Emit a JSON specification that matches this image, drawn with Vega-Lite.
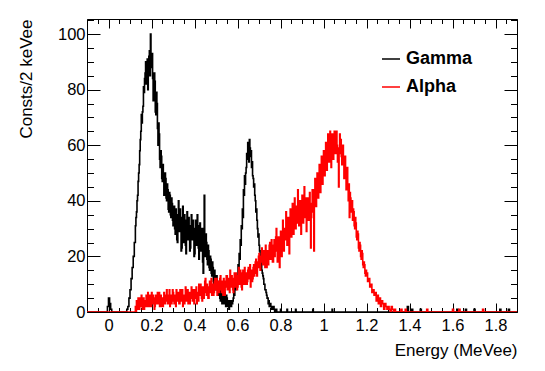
{
 "$schema": "https://vega.github.io/schema/vega-lite/v6.json",
 "autosize": "none",
 "width": 430,
 "height": 293,
 "padding": {"left": 87, "top": 19, "right": 28, "bottom": 59},
 "background": "white",
 "config": {
  "view": {"stroke": "#000", "strokeWidth": 1},
  "font": "Liberation Sans",
  "axis": {"grid": false, "domain": false, "labelFont": "Liberation Sans", "labelFontSize": 16.5, "labelColor": "#000", "tickColor": "#000", "tickWidth": 1, "titleFont": "Liberation Sans", "titleFontWeight": "normal", "titleFontSize": 17, "titleColor": "#000"}
 },
 "data": {"values": [
  {"e":-0.1,"Gamma":0,"Alpha":0},{"e":-0.005,"Gamma":2,"Alpha":0},{"e":0,"Gamma":5,"Alpha":0},{"e":0.005,"Gamma":3,"Alpha":0},{"e":0.01,"Gamma":1,"Alpha":0},{"e":0.015,"Gamma":0,"Alpha":0},
  {"e":0.085,"Gamma":1,"Alpha":0},{"e":0.09,"Gamma":2,"Alpha":0},{"e":0.095,"Gamma":5,"Alpha":0},{"e":0.1,"Gamma":8,"Alpha":0},{"e":0.105,"Gamma":12,"Alpha":0},{"e":0.11,"Gamma":16,"Alpha":0},{"e":0.115,"Gamma":20,"Alpha":0},{"e":0.12,"Gamma":25,"Alpha":0},
  {"e":0.125,"Gamma":31,"Alpha":2},{"e":0.1275,"Gamma":34,"Alpha":0},{"e":0.13,"Gamma":36,"Alpha":4},{"e":0.1325,"Gamma":40,"Alpha":2},{"e":0.135,"Gamma":42,"Alpha":1},{"e":0.1375,"Gamma":47,"Alpha":5},{"e":0.14,"Gamma":50,"Alpha":3},{"e":0.1425,"Gamma":53,"Alpha":1},{"e":0.145,"Gamma":58,"Alpha":5},{"e":0.1475,"Gamma":62,"Alpha":3},
  {"e":0.15,"Gamma":65,"Alpha":2},{"e":0.1525,"Gamma":71,"Alpha":6},{"e":0.155,"Gamma":68,"Alpha":4},{"e":0.1575,"Gamma":72,"Alpha":1},{"e":0.16,"Gamma":74,"Alpha":3},{"e":0.1625,"Gamma":81,"Alpha":5},{"e":0.165,"Gamma":79,"Alpha":1},{"e":0.1675,"Gamma":84,"Alpha":3},{"e":0.17,"Gamma":86,"Alpha":4},{"e":0.1725,"Gamma":90,"Alpha":2},
  {"e":0.175,"Gamma":82,"Alpha":6},{"e":0.1775,"Gamma":88,"Alpha":3},{"e":0.18,"Gamma":91,"Alpha":2},{"e":0.1825,"Gamma":80,"Alpha":7},{"e":0.185,"Gamma":86,"Alpha":5},{"e":0.1875,"Gamma":92,"Alpha":2},{"e":0.19,"Gamma":94,"Alpha":3},{"e":0.1925,"Gamma":85,"Alpha":6},{"e":0.195,"Gamma":100,"Alpha":4},{"e":0.1975,"Gamma":90,"Alpha":2},
  {"e":0.2,"Gamma":88,"Alpha":7},{"e":0.2025,"Gamma":93,"Alpha":4},{"e":0.205,"Gamma":84,"Alpha":3},{"e":0.2075,"Gamma":76,"Alpha":6},{"e":0.21,"Gamma":78,"Alpha":5},{"e":0.2125,"Gamma":86,"Alpha":1},{"e":0.215,"Gamma":83,"Alpha":2},{"e":0.2175,"Gamma":72,"Alpha":5},{"e":0.22,"Gamma":71,"Alpha":6},{"e":0.2225,"Gamma":79,"Alpha":3},
  {"e":0.225,"Gamma":75,"Alpha":4},{"e":0.2275,"Gamma":66,"Alpha":7},{"e":0.23,"Gamma":60,"Alpha":3},{"e":0.2325,"Gamma":68,"Alpha":5},{"e":0.235,"Gamma":64,"Alpha":7},{"e":0.2375,"Gamma":55,"Alpha":2},{"e":0.24,"Gamma":52,"Alpha":4},{"e":0.2425,"Gamma":58,"Alpha":6},{"e":0.245,"Gamma":56,"Alpha":2},{"e":0.2475,"Gamma":48,"Alpha":4},
  {"e":0.25,"Gamma":47,"Alpha":5},{"e":0.2525,"Gamma":53,"Alpha":2},{"e":0.255,"Gamma":50,"Alpha":3},{"e":0.2575,"Gamma":42,"Alpha":7},{"e":0.26,"Gamma":44,"Alpha":6},{"e":0.2625,"Gamma":50,"Alpha":3},{"e":0.265,"Gamma":48,"Alpha":4},{"e":0.2675,"Gamma":41,"Alpha":6},{"e":0.27,"Gamma":40,"Alpha":8},{"e":0.2725,"Gamma":46,"Alpha":4},
  {"e":0.275,"Gamma":44,"Alpha":3},{"e":0.2775,"Gamma":37,"Alpha":6},{"e":0.28,"Gamma":36,"Alpha":5},{"e":0.2825,"Gamma":43,"Alpha":8},{"e":0.285,"Gamma":42,"Alpha":2},{"e":0.2875,"Gamma":35,"Alpha":5},{"e":0.29,"Gamma":34,"Alpha":6},{"e":0.2925,"Gamma":41,"Alpha":3},{"e":0.295,"Gamma":39,"Alpha":4},{"e":0.2975,"Gamma":33,"Alpha":8},
  {"e":0.3,"Gamma":31,"Alpha":7},{"e":0.3025,"Gamma":36,"Alpha":4},{"e":0.305,"Gamma":38,"Alpha":3},{"e":0.3075,"Gamma":30,"Alpha":6},{"e":0.31,"Gamma":28,"Alpha":5},{"e":0.3125,"Gamma":37,"Alpha":2},{"e":0.315,"Gamma":35,"Alpha":8},{"e":0.3175,"Gamma":26,"Alpha":5},{"e":0.32,"Gamma":25,"Alpha":4},{"e":0.3225,"Gamma":33,"Alpha":7},
  {"e":0.325,"Gamma":40,"Alpha":6},{"e":0.3275,"Gamma":31,"Alpha":3},{"e":0.33,"Gamma":29,"Alpha":3},{"e":0.3325,"Gamma":37,"Alpha":8},{"e":0.335,"Gamma":34,"Alpha":7},{"e":0.3375,"Gamma":22,"Alpha":4},{"e":0.34,"Gamma":23,"Alpha":5},{"e":0.3425,"Gamma":32,"Alpha":8},{"e":0.345,"Gamma":38,"Alpha":2},{"e":0.3475,"Gamma":25,"Alpha":6},
  {"e":0.35,"Gamma":27,"Alpha":6},{"e":0.3525,"Gamma":35,"Alpha":3},{"e":0.355,"Gamma":33,"Alpha":4},{"e":0.3575,"Gamma":24,"Alpha":9},{"e":0.36,"Gamma":21,"Alpha":8},{"e":0.3625,"Gamma":30,"Alpha":4},{"e":0.365,"Gamma":36,"Alpha":5},{"e":0.3675,"Gamma":26,"Alpha":8},{"e":0.37,"Gamma":27,"Alpha":3},{"e":0.3725,"Gamma":34,"Alpha":6},
  {"e":0.375,"Gamma":31,"Alpha":7},{"e":0.3775,"Gamma":22,"Alpha":3},{"e":0.38,"Gamma":23,"Alpha":5},{"e":0.3825,"Gamma":30,"Alpha":7},{"e":0.385,"Gamma":35,"Alpha":9},{"e":0.3875,"Gamma":27,"Alpha":5},{"e":0.39,"Gamma":26,"Alpha":4},{"e":0.3925,"Gamma":33,"Alpha":8},{"e":0.395,"Gamma":30,"Alpha":6},{"e":0.3975,"Gamma":20,"Alpha":3},
  {"e":0.4,"Gamma":21,"Alpha":8},{"e":0.4025,"Gamma":29,"Alpha":6},{"e":0.405,"Gamma":33,"Alpha":5},{"e":0.4075,"Gamma":24,"Alpha":9},{"e":0.41,"Gamma":25,"Alpha":3},{"e":0.4125,"Gamma":35,"Alpha":7},{"e":0.415,"Gamma":31,"Alpha":7},{"e":0.4175,"Gamma":23,"Alpha":4},{"e":0.42,"Gamma":19,"Alpha":10},{"e":0.4225,"Gamma":28,"Alpha":6},
  {"e":0.425,"Gamma":32,"Alpha":6},{"e":0.4275,"Gamma":26,"Alpha":10},{"e":0.43,"Gamma":22,"Alpha":8},{"e":0.4325,"Gamma":30,"Alpha":5},{"e":0.435,"Gamma":27,"Alpha":4},{"e":0.4375,"Gamma":18,"Alpha":9},{"e":0.44,"Gamma":14,"Alpha":9},{"e":0.4425,"Gamma":30,"Alpha":5},{"e":0.445,"Gamma":42,"Alpha":7},{"e":0.4475,"Gamma":27,"Alpha":11},
  {"e":0.45,"Gamma":20,"Alpha":12},{"e":0.4525,"Gamma":28,"Alpha":7},{"e":0.455,"Gamma":25,"Alpha":6},{"e":0.4575,"Gamma":19,"Alpha":10},{"e":0.46,"Gamma":17,"Alpha":9},{"e":0.4625,"Gamma":24,"Alpha":5},{"e":0.465,"Gamma":22,"Alpha":5},{"e":0.4675,"Gamma":16,"Alpha":9},{"e":0.47,"Gamma":15,"Alpha":11},{"e":0.4725,"Gamma":20,"Alpha":7},
  {"e":0.475,"Gamma":19,"Alpha":8},{"e":0.4775,"Gamma":14,"Alpha":12},{"e":0.48,"Gamma":13,"Alpha":6},{"e":0.4825,"Gamma":18,"Alpha":9},{"e":0.485,"Gamma":16,"Alpha":10},{"e":0.4875,"Gamma":11,"Alpha":6},{"e":0.49,"Gamma":10,"Alpha":7},{"e":0.4925,"Gamma":15,"Alpha":11},{"e":0.495,"Gamma":13,"Alpha":12},{"e":0.4975,"Gamma":8,"Alpha":8},
  {"e":0.5,"Gamma":9,"Alpha":9},{"e":0.5025,"Gamma":13,"Alpha":12},{"e":0.505,"Gamma":11,"Alpha":6},{"e":0.5075,"Gamma":7,"Alpha":9},{"e":0.51,"Gamma":6,"Alpha":11},{"e":0.5125,"Gamma":10,"Alpha":7},{"e":0.515,"Gamma":9,"Alpha":8},{"e":0.5175,"Gamma":5,"Alpha":12},{"e":0.52,"Gamma":4,"Alpha":13},{"e":0.5225,"Gamma":7,"Alpha":8},
  {"e":0.525,"Gamma":8,"Alpha":7},{"e":0.5275,"Gamma":3,"Alpha":11},{"e":0.53,"Gamma":5,"Alpha":10},{"e":0.5325,"Gamma":6,"Alpha":6},{"e":0.535,"Gamma":3,"Alpha":12},{"e":0.5375,"Gamma":5,"Alpha":9},{"e":0.54,"Gamma":7,"Alpha":6},{"e":0.5425,"Gamma":4,"Alpha":11},{"e":0.545,"Gamma":2,"Alpha":9},{"e":0.5475,"Gamma":6,"Alpha":13},
  {"e":0.55,"Gamma":5,"Alpha":13},{"e":0.5525,"Gamma":2,"Alpha":8},{"e":0.555,"Gamma":3,"Alpha":8},{"e":0.5575,"Gamma":4,"Alpha":12},{"e":0.56,"Gamma":1,"Alpha":11},{"e":0.5625,"Gamma":3,"Alpha":7},{"e":0.565,"Gamma":4,"Alpha":15},{"e":0.5675,"Gamma":2,"Alpha":10},{"e":0.57,"Gamma":2,"Alpha":9},{"e":0.5725,"Gamma":4,"Alpha":13},
  {"e":0.575,"Gamma":3,"Alpha":12},{"e":0.5775,"Gamma":4,"Alpha":8},{"e":0.58,"Gamma":5,"Alpha":7},{"e":0.5825,"Gamma":7,"Alpha":12},{"e":0.585,"Gamma":6,"Alpha":14},{"e":0.5875,"Gamma":9,"Alpha":9},{"e":0.59,"Gamma":8,"Alpha":10},{"e":0.5925,"Gamma":11,"Alpha":14},{"e":0.595,"Gamma":10,"Alpha":13},{"e":0.5975,"Gamma":13,"Alpha":8},
  {"e":0.6,"Gamma":12,"Alpha":9},{"e":0.6025,"Gamma":17,"Alpha":13},{"e":0.605,"Gamma":15,"Alpha":16},{"e":0.6075,"Gamma":21,"Alpha":10},{"e":0.61,"Gamma":19,"Alpha":11},{"e":0.6125,"Gamma":26,"Alpha":15},{"e":0.615,"Gamma":24,"Alpha":13},{"e":0.6175,"Gamma":31,"Alpha":9},{"e":0.62,"Gamma":30,"Alpha":8},{"e":0.6225,"Gamma":37,"Alpha":14},
  {"e":0.625,"Gamma":34,"Alpha":15},{"e":0.6275,"Gamma":44,"Alpha":10},{"e":0.63,"Gamma":42,"Alpha":12},{"e":0.6325,"Gamma":49,"Alpha":16},{"e":0.635,"Gamma":46,"Alpha":10},{"e":0.6375,"Gamma":50,"Alpha":13},{"e":0.64,"Gamma":52,"Alpha":14},{"e":0.6425,"Gamma":57,"Alpha":10},{"e":0.645,"Gamma":55,"Alpha":11},{"e":0.6475,"Gamma":61,"Alpha":15},
  {"e":0.65,"Gamma":58,"Alpha":16},{"e":0.6525,"Gamma":54,"Alpha":12},{"e":0.655,"Gamma":62,"Alpha":13},{"e":0.6575,"Gamma":59,"Alpha":17},{"e":0.66,"Gamma":56,"Alpha":9},{"e":0.6625,"Gamma":58,"Alpha":14},{"e":0.665,"Gamma":52,"Alpha":15},{"e":0.6675,"Gamma":54,"Alpha":11},{"e":0.67,"Gamma":49,"Alpha":12},{"e":0.6725,"Gamma":48,"Alpha":16},
  {"e":0.675,"Gamma":45,"Alpha":17},{"e":0.6775,"Gamma":46,"Alpha":13},{"e":0.68,"Gamma":42,"Alpha":14},{"e":0.6825,"Gamma":40,"Alpha":18},{"e":0.685,"Gamma":36,"Alpha":19},{"e":0.6875,"Gamma":37,"Alpha":14},{"e":0.69,"Gamma":33,"Alpha":13},{"e":0.6925,"Gamma":30,"Alpha":18},{"e":0.695,"Gamma":27,"Alpha":16},{"e":0.6975,"Gamma":28,"Alpha":20},
  {"e":0.7,"Gamma":24,"Alpha":21},{"e":0.7025,"Gamma":22,"Alpha":16},{"e":0.705,"Gamma":20,"Alpha":15},{"e":0.7075,"Gamma":19,"Alpha":20},{"e":0.71,"Gamma":17,"Alpha":18},{"e":0.7125,"Gamma":15,"Alpha":23},{"e":0.715,"Gamma":14,"Alpha":22},{"e":0.7175,"Gamma":13,"Alpha":17},{"e":0.72,"Gamma":12,"Alpha":17},{"e":0.7225,"Gamma":10,"Alpha":22},
  {"e":0.725,"Gamma":10,"Alpha":20},{"e":0.7275,"Gamma":8,"Alpha":16},{"e":0.73,"Gamma":8,"Alpha":24},{"e":0.7325,"Gamma":7,"Alpha":19},{"e":0.735,"Gamma":6,"Alpha":16},{"e":0.7375,"Gamma":5,"Alpha":22},{"e":0.74,"Gamma":5,"Alpha":21},{"e":0.7425,"Gamma":3,"Alpha":17},{"e":0.745,"Gamma":4,"Alpha":19},{"e":0.7475,"Gamma":2,"Alpha":24},
  {"e":0.75,"Gamma":3,"Alpha":25},{"e":0.7525,"Gamma":3,"Alpha":19},{"e":0.755,"Gamma":2,"Alpha":20},{"e":0.7575,"Gamma":1,"Alpha":26},{"e":0.76,"Gamma":2,"Alpha":23},{"e":0.7625,"Gamma":1,"Alpha":18},{"e":0.765,"Gamma":1,"Alpha":18},{"e":0.7675,"Gamma":2,"Alpha":24},{"e":0.77,"Gamma":1,"Alpha":26},{"e":0.7725,"Gamma":0,"Alpha":20},
  {"e":0.775,"Gamma":0,"Alpha":22},{"e":0.7775,"Gamma":1,"Alpha":27},{"e":0.78,"Gamma":1,"Alpha":30},{"e":0.7825,"Gamma":0,"Alpha":22},{"e":0.785,"Gamma":0,"Alpha":18},{"e":0.7875,"Gamma":0,"Alpha":25},{"e":0.79,"Gamma":0,"Alpha":27},{"e":0.7925,"Gamma":0,"Alpha":21},{"e":0.795,"Gamma":0,"Alpha":16},{"e":0.7975,"Gamma":0,"Alpha":24},
  {"e":0.8,"Gamma":1,"Alpha":29},{"e":0.8025,"Gamma":0,"Alpha":23},{"e":0.805,"Gamma":0,"Alpha":20},{"e":0.8075,"Gamma":0,"Alpha":27},{"e":0.81,"Gamma":0,"Alpha":33},{"e":0.8125,"Gamma":0,"Alpha":25},{"e":0.815,"Gamma":0,"Alpha":22},{"e":0.8175,"Gamma":0,"Alpha":29},{"e":0.82,"Gamma":0,"Alpha":30},{"e":0.8225,"Gamma":0,"Alpha":26},
  {"e":0.825,"Gamma":0,"Alpha":36},{"e":0.8275,"Gamma":0,"Alpha":29},{"e":0.83,"Gamma":1,"Alpha":24},{"e":0.8325,"Gamma":0,"Alpha":31},{"e":0.835,"Gamma":0,"Alpha":34},{"e":0.8375,"Gamma":0,"Alpha":27},{"e":0.84,"Gamma":0,"Alpha":21},{"e":0.8425,"Gamma":0,"Alpha":30},{"e":0.845,"Gamma":0,"Alpha":37},{"e":0.8475,"Gamma":0,"Alpha":31},
  {"e":0.85,"Gamma":0,"Alpha":27},{"e":0.8525,"Gamma":0,"Alpha":34},{"e":0.855,"Gamma":0,"Alpha":39},{"e":0.8575,"Gamma":0,"Alpha":32},{"e":0.86,"Gamma":0,"Alpha":28},{"e":0.8625,"Gamma":0,"Alpha":36},{"e":0.865,"Gamma":0,"Alpha":41},{"e":0.8675,"Gamma":0,"Alpha":33},{"e":0.87,"Gamma":1,"Alpha":30},{"e":0.8725,"Gamma":0,"Alpha":38},
  {"e":0.875,"Gamma":0,"Alpha":37},{"e":0.8775,"Gamma":0,"Alpha":32},{"e":0.88,"Gamma":0,"Alpha":44},{"e":0.8825,"Gamma":0,"Alpha":36},{"e":0.885,"Gamma":0,"Alpha":31},{"e":0.8875,"Gamma":0,"Alpha":39},{"e":0.89,"Gamma":0,"Alpha":40},{"e":0.8925,"Gamma":0,"Alpha":34},{"e":0.895,"Gamma":0,"Alpha":28},{"e":0.8975,"Gamma":0,"Alpha":36},
  {"e":0.9,"Gamma":0,"Alpha":42},{"e":0.9025,"Gamma":0,"Alpha":35},{"e":0.905,"Gamma":0,"Alpha":32},{"e":0.9075,"Gamma":0,"Alpha":40},{"e":0.91,"Gamma":0,"Alpha":45},{"e":0.9125,"Gamma":0,"Alpha":37},{"e":0.915,"Gamma":0,"Alpha":34},{"e":0.9175,"Gamma":0,"Alpha":41},{"e":0.92,"Gamma":0,"Alpha":29},{"e":0.9225,"Gamma":0,"Alpha":36},
  {"e":0.925,"Gamma":0,"Alpha":41},{"e":0.9275,"Gamma":0,"Alpha":35},{"e":0.93,"Gamma":0,"Alpha":33},{"e":0.9325,"Gamma":0,"Alpha":39},{"e":0.935,"Gamma":0,"Alpha":43},{"e":0.9375,"Gamma":0,"Alpha":36},{"e":0.94,"Gamma":0,"Alpha":23},{"e":0.9425,"Gamma":0,"Alpha":34},{"e":0.945,"Gamma":0,"Alpha":39},{"e":0.9475,"Gamma":0,"Alpha":44},
  {"e":0.95,"Gamma":1,"Alpha":44},{"e":0.9525,"Gamma":0,"Alpha":36},{"e":0.955,"Gamma":0,"Alpha":22},{"e":0.9575,"Gamma":0,"Alpha":38},{"e":0.96,"Gamma":0,"Alpha":48},{"e":0.9625,"Gamma":0,"Alpha":42},{"e":0.965,"Gamma":0,"Alpha":38},{"e":0.9675,"Gamma":0,"Alpha":45},{"e":0.97,"Gamma":0,"Alpha":50},{"e":0.9725,"Gamma":0,"Alpha":44},
  {"e":0.975,"Gamma":0,"Alpha":41},{"e":0.9775,"Gamma":0,"Alpha":48},{"e":0.98,"Gamma":0,"Alpha":53},{"e":0.9825,"Gamma":0,"Alpha":46},{"e":0.985,"Gamma":0,"Alpha":43},{"e":0.9875,"Gamma":0,"Alpha":51},{"e":0.99,"Gamma":0,"Alpha":56},{"e":0.9925,"Gamma":0,"Alpha":49},{"e":0.995,"Gamma":0,"Alpha":46},{"e":0.9975,"Gamma":0,"Alpha":54},
  {"e":1,"Gamma":0,"Alpha":58},{"e":1.0025,"Gamma":0,"Alpha":52},{"e":1.005,"Gamma":0,"Alpha":49},{"e":1.0075,"Gamma":0,"Alpha":57},{"e":1.01,"Gamma":0,"Alpha":61},{"e":1.0125,"Gamma":0,"Alpha":54},{"e":1.015,"Gamma":0,"Alpha":51},{"e":1.0175,"Gamma":0,"Alpha":59},{"e":1.02,"Gamma":0,"Alpha":64},{"e":1.0225,"Gamma":0,"Alpha":57},
  {"e":1.025,"Gamma":0,"Alpha":54},{"e":1.0275,"Gamma":0,"Alpha":62},{"e":1.03,"Gamma":0,"Alpha":65},{"e":1.0325,"Gamma":0,"Alpha":58},{"e":1.035,"Gamma":0,"Alpha":52},{"e":1.0375,"Gamma":0,"Alpha":60},{"e":1.04,"Gamma":1,"Alpha":64},{"e":1.0425,"Gamma":0,"Alpha":59},{"e":1.045,"Gamma":0,"Alpha":55},{"e":1.0475,"Gamma":0,"Alpha":62},
  {"e":1.05,"Gamma":0,"Alpha":65},{"e":1.0525,"Gamma":0,"Alpha":58},{"e":1.055,"Gamma":0,"Alpha":57},{"e":1.0575,"Gamma":0,"Alpha":63},{"e":1.06,"Gamma":0,"Alpha":65},{"e":1.0625,"Gamma":0,"Alpha":60},{"e":1.065,"Gamma":0,"Alpha":54},{"e":1.0675,"Gamma":0,"Alpha":59},{"e":1.07,"Gamma":0,"Alpha":45},{"e":1.0725,"Gamma":0,"Alpha":57},
  {"e":1.075,"Gamma":0,"Alpha":64},{"e":1.0775,"Gamma":0,"Alpha":58},{"e":1.08,"Gamma":0,"Alpha":62},{"e":1.0825,"Gamma":0,"Alpha":56},{"e":1.085,"Gamma":0,"Alpha":53},{"e":1.0875,"Gamma":0,"Alpha":59},{"e":1.09,"Gamma":0,"Alpha":60},{"e":1.0925,"Gamma":0,"Alpha":54},{"e":1.095,"Gamma":0,"Alpha":48},{"e":1.0975,"Gamma":0,"Alpha":55},
  {"e":1.1,"Gamma":0,"Alpha":56},{"e":1.1025,"Gamma":0,"Alpha":49},{"e":1.105,"Gamma":0,"Alpha":44},{"e":1.1075,"Gamma":0,"Alpha":51},{"e":1.11,"Gamma":0,"Alpha":52},{"e":1.1125,"Gamma":0,"Alpha":45},{"e":1.115,"Gamma":0,"Alpha":40},{"e":1.1175,"Gamma":0,"Alpha":46},{"e":1.12,"Gamma":0,"Alpha":34},{"e":1.1225,"Gamma":0,"Alpha":43},
  {"e":1.125,"Gamma":0,"Alpha":41},{"e":1.1275,"Gamma":0,"Alpha":36},{"e":1.13,"Gamma":0,"Alpha":38},{"e":1.1325,"Gamma":0,"Alpha":40},{"e":1.135,"Gamma":0,"Alpha":33},{"e":1.1375,"Gamma":0,"Alpha":37},{"e":1.14,"Gamma":0,"Alpha":36},{"e":1.1425,"Gamma":0,"Alpha":31},{"e":1.145,"Gamma":0,"Alpha":30},{"e":1.1475,"Gamma":0,"Alpha":34},
  {"e":1.15,"Gamma":0,"Alpha":32},{"e":1.1525,"Gamma":0,"Alpha":27},{"e":1.155,"Gamma":0,"Alpha":26},{"e":1.1575,"Gamma":0,"Alpha":29},{"e":1.16,"Gamma":0,"Alpha":28},{"e":1.1625,"Gamma":0,"Alpha":23},{"e":1.165,"Gamma":0,"Alpha":22},{"e":1.1675,"Gamma":0,"Alpha":25},{"e":1.17,"Gamma":0,"Alpha":24},{"e":1.1725,"Gamma":0,"Alpha":20},
  {"e":1.175,"Gamma":0,"Alpha":19},{"e":1.1775,"Gamma":0,"Alpha":22},{"e":1.18,"Gamma":0,"Alpha":21},{"e":1.1825,"Gamma":0,"Alpha":17},{"e":1.185,"Gamma":0,"Alpha":16},{"e":1.1875,"Gamma":0,"Alpha":18},{"e":1.19,"Gamma":0,"Alpha":17},{"e":1.1925,"Gamma":0,"Alpha":14},{"e":1.195,"Gamma":0,"Alpha":13},{"e":1.1975,"Gamma":0,"Alpha":15},
  {"e":1.2,"Gamma":0,"Alpha":14},{"e":1.205,"Gamma":0,"Alpha":11},{"e":1.21,"Gamma":0,"Alpha":12},{"e":1.215,"Gamma":0,"Alpha":9},{"e":1.22,"Gamma":0,"Alpha":10},{"e":1.225,"Gamma":0,"Alpha":7},{"e":1.23,"Gamma":0,"Alpha":8},{"e":1.235,"Gamma":0,"Alpha":6},{"e":1.24,"Gamma":0,"Alpha":7},{"e":1.245,"Gamma":0,"Alpha":4},{"e":1.25,"Gamma":0,"Alpha":6},{"e":1.255,"Gamma":0,"Alpha":3},{"e":1.26,"Gamma":0,"Alpha":5},{"e":1.265,"Gamma":0,"Alpha":2},{"e":1.27,"Gamma":0,"Alpha":4},{"e":1.275,"Gamma":0,"Alpha":3},{"e":1.28,"Gamma":0,"Alpha":1},{"e":1.285,"Gamma":0,"Alpha":3},{"e":1.29,"Gamma":0,"Alpha":2},{"e":1.295,"Gamma":0,"Alpha":1},
  {"e":1.3,"Gamma":0,"Alpha":2},{"e":1.305,"Gamma":0,"Alpha":1},{"e":1.31,"Gamma":0,"Alpha":0},{"e":1.315,"Gamma":0,"Alpha":2},{"e":1.32,"Gamma":0,"Alpha":1},{"e":1.325,"Gamma":0,"Alpha":0},{"e":1.33,"Gamma":0,"Alpha":1},{"e":1.335,"Gamma":0,"Alpha":0},
  {"e":1.36,"Gamma":0,"Alpha":1},{"e":1.365,"Gamma":0,"Alpha":0},{"e":1.38,"Gamma":0,"Alpha":1},{"e":1.385,"Gamma":0,"Alpha":0},{"e":1.39,"Gamma":2,"Alpha":0},{"e":1.395,"Gamma":0,"Alpha":0},{"e":1.41,"Gamma":1,"Alpha":0},{"e":1.415,"Gamma":0,"Alpha":0},{"e":1.45,"Gamma":1,"Alpha":0},{"e":1.455,"Gamma":0,"Alpha":0},{"e":1.48,"Gamma":0,"Alpha":1},{"e":1.485,"Gamma":0,"Alpha":0},
  {"e":1.6,"Gamma":0,"Alpha":1},{"e":1.605,"Gamma":0,"Alpha":0},{"e":1.62,"Gamma":1,"Alpha":0},{"e":1.625,"Gamma":0,"Alpha":0},{"e":1.63,"Gamma":0,"Alpha":1},{"e":1.635,"Gamma":0,"Alpha":0},{"e":1.66,"Gamma":1,"Alpha":0},{"e":1.665,"Gamma":0,"Alpha":0},{"e":1.7,"Gamma":1,"Alpha":0},{"e":1.705,"Gamma":0,"Alpha":0},{"e":1.74,"Gamma":0,"Alpha":1},{"e":1.745,"Gamma":0,"Alpha":0},{"e":1.82,"Gamma":1,"Alpha":0},{"e":1.825,"Gamma":0,"Alpha":0},{"e":1.86,"Gamma":1,"Alpha":0},{"e":1.865,"Gamma":0,"Alpha":0},{"e":1.9,"Gamma":0,"Alpha":0}
 ]},
 "transform": [{"fold": ["Gamma", "Alpha"], "as": ["series", "count"]}],
 "layer": [
  {
   "transform": [{"filter": "datum.series === 'Gamma'"}],
   "mark": {"type": "line", "interpolate": "step-after", "strokeWidth": 1.6, "clip": true},
   "encoding": {
    "x": {"field": "e", "type": "quantitative", "scale": {"domain": [-0.1, 1.9], "nice": false, "zero": false},
     "axis": {"orient": "bottom", "values": [-0.1,-0.05,0,0.05,0.1,0.15,0.2,0.25,0.3,0.35,0.4,0.45,0.5,0.55,0.6,0.65,0.7,0.75,0.8,0.85,0.9,0.95,1,1.05,1.1,1.15,1.2,1.25,1.3,1.35,1.4,1.45,1.5,1.55,1.6,1.65,1.7,1.75,1.8,1.85,1.9],
      "format": "~g", "labelExpr": "abs(datum.value/0.2-round(datum.value/0.2))<0.001 ? datum.label : ''",
      "tickSize": {"condition": {"test": "abs(datum.value/0.2-round(datum.value/0.2))<0.001", "value": -9}, "value": -4.5},
      "labelPadding": 14, "labelOverlap": false, "labelFlush": false,
      "title": "Energy (MeVee)", "titleAnchor": "end", "titlePadding": 4}},
    "y": {"field": "count", "type": "quantitative", "scale": {"domain": [0, 105.4], "nice": false},
     "axis": {"orient": "left", "values": [0,5,10,15,20,25,30,35,40,45,50,55,60,65,70,75,80,85,90,95,100,105],
      "labelExpr": "datum.value % 20 === 0 ? datum.label : ''",
      "tickSize": {"condition": {"test": "datum.value % 20 === 0", "value": -13}, "value": -6.5},
      "labelPadding": 15, "labelOverlap": false, "labelFlush": false,
      "title": "Consts/2 keVee", "titleAnchor": "end", "titlePadding": 22}},
    "color": {"field": "series", "type": "nominal", "scale": {"domain": ["Gamma", "Alpha"], "range": ["#000000", "#ff0000"]},
     "legend": {"orient": "none", "legendX": 294, "legendY": 30, "title": null, "symbolType": "stroke", "symbolSize": 324, "symbolStrokeWidth": 1.5, "labelFont": "Liberation Sans", "labelFontSize": 18, "labelFontWeight": "bold", "labelColor": "#000", "rowPadding": 9, "labelOffset": 5}}
   }
  },
  {
   "transform": [{"filter": "datum.series === 'Alpha'"}],
   "mark": {"type": "line", "interpolate": "step-after", "strokeWidth": 1.6, "clip": true},
   "encoding": {
    "x": {"field": "e", "type": "quantitative", "scale": {"domain": [-0.1, 1.9], "nice": false, "zero": false},
     "axis": {"orient": "top", "values": [-0.1,-0.05,0,0.05,0.1,0.15,0.2,0.25,0.3,0.35,0.4,0.45,0.5,0.55,0.6,0.65,0.7,0.75,0.8,0.85,0.9,0.95,1,1.05,1.1,1.15,1.2,1.25,1.3,1.35,1.4,1.45,1.5,1.55,1.6,1.65,1.7,1.75,1.8,1.85,1.9],
      "labels": false, "title": null,
      "tickSize": {"condition": {"test": "abs(datum.value/0.2-round(datum.value/0.2))<0.001", "value": -9}, "value": -4.5}}},
    "y": {"field": "count", "type": "quantitative", "scale": {"domain": [0, 105.4], "nice": false},
     "axis": {"orient": "right", "values": [0,5,10,15,20,25,30,35,40,45,50,55,60,65,70,75,80,85,90,95,100,105],
      "labels": false, "title": null,
      "tickSize": {"condition": {"test": "datum.value % 20 === 0", "value": -13}, "value": -6.5}}},
    "color": {"field": "series", "type": "nominal", "scale": {"domain": ["Gamma", "Alpha"], "range": ["#000000", "#ff0000"]}}
   }
  }
 ],
 "resolve": {"axis": {"x": "independent", "y": "independent"}}
}
